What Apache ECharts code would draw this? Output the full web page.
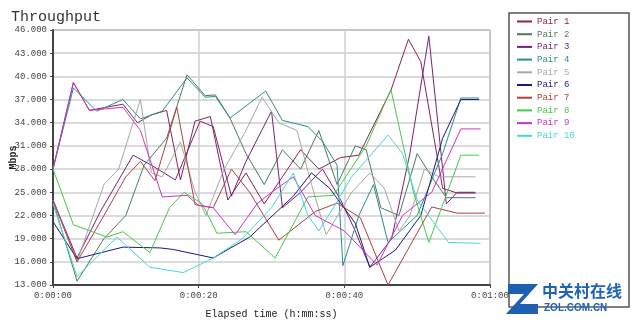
<!DOCTYPE html>
<html><head><meta charset="utf-8">
<script src="https://cdn.jsdelivr.net/npm/echarts@6/dist/echarts.min.js"></script>
<style>html,body{margin:0;padding:0;background:#fff}#c{width:640px;height:325px}</style>
</head><body><div id="c"></div>
<script>
const seriesNames = ['Pair 1','Pair 2','Pair 3','Pair 4','Pair 5','Pair 6','Pair 7','Pair 8','Pair 9','Pair 10'];
const seriesColors = ['#8b2252','#4f7a5a','#7a1f7a','#2a8f8f','#a8a8a8','#1a1a80','#b0403a','#44cc44','#cc33cc','#44d8d8'];
const yTicks = [13,16,19,22,25,28,31,34,37,40,43,46];
const xTicks = ['0:00:00','0:00:20','0:00:40','0:01:00'];

const pair1 = [[0,28],[2.8,39.2],[5,35.6],[9.6,36.4],[11.6,34.0],[13.5,35.0],[15.6,35.6],[17.5,26.6],[19.5,34.2],[21.6,34.8],[24.0,24.0],[26.5,27.5],[29.0,23.5],[31.5,27.0],[34.0,30.5],[36.5,28.0],[39.5,29.5],[42.0,29.8],[46.4,38.2],[48.8,44.8],[50.5,41.9],[53.5,25.5],[55.5,24.9],[58.0,24.9]];
const pair2 = [[0,23.9],[3.3,13.5],[7,19],[10,22],[12.5,28.5],[15.6,32],[18.4,40.2],[20.9,37.5],[22.3,37.6],[24.3,34.6],[26.5,30],[29,26],[31.5,30.5],[34,28],[36.5,33],[39,26],[41.5,31],[43,30.5],[45,23],[47.5,22],[50,30],[52,27],[54,24.3],[58,24.3]];
const pair3 = [[0,24.0],[3.3,16.5],[6.5,22.5],[11,29.8],[13.5,28.5],[16.8,26.6],[20.2,34.2],[22.0,33.5],[24.5,24.5],[26.5,29],[30,35.5],[31.5,23],[34,25],[37,28],[39.5,24],[41.5,20],[43.5,15.3],[46.5,19],[49,30],[51.6,45.2],[54,23.5],[55.5,25],[58,25]];
const pair4 = [[0,28],[2.8,38.5],[6,35.5],[9.6,37.0],[12,34.5],[15,35.5],[18.4,39.8],[20.9,37.3],[22.3,37.4],[24.3,34.6],[29.2,38.1],[31.5,34.3],[35,33.5],[37,31.6],[39,28.5],[39.8,15.5],[42,22],[44,26],[46,18.5],[50,22],[53.5,30],[56,37.2],[58.5,37.2]];
const pair5 = [[0,24],[3.3,16],[7,26],[9,28],[12,37],[13.5,27.5],[15,27],[17.5,31.5],[19.5,25],[21,22],[23.5,28],[26.5,33],[28.7,37.3],[31,34],[33.5,33],[35.5,26],[37.5,19.5],[41,25],[43.5,27.5],[45.5,25.5],[47.5,20],[49,22],[51,28],[53,27],[58,27]];
const pair6 = [[0,21.2],[3.3,16.4],[9.6,17.9],[14.7,17.8],[16.5,17.6],[22,16.5],[27,19.2],[33,24.5],[35.5,27.5],[38,25.5],[41.5,21],[43.5,15.3],[47,17.5],[50.5,22],[53.5,32],[56,37.0],[58.5,37.0]];
const pair7 = [[0,24],[3.3,16.0],[7,22],[10,27],[12,29],[14,26.5],[17,36],[19.5,23.4],[22,23.0],[24.5,28],[27,25],[31,18.8],[36,22.5],[39,23.6],[42.2,21.7],[46,13.0],[52,23.1],[55.5,22.3],[59.3,22.3]];
const pair8 = [[0,28],[2.8,20.8],[7.4,19.2],[9.6,19.9],[13.3,17.2],[16,23],[18,25],[20.5,23.5],[22.5,19.7],[26.5,19.9],[30.5,16.5],[35,24.4],[38.5,24.6],[43,31],[46.4,38.3],[49.5,25],[51.6,18.5],[56,29.8],[58.5,29.8]];
const pair9 = [[0,28],[2.8,39.2],[5,35.6],[9.6,36.0],[12,33],[15,24.4],[18.4,24.6],[20,23.3],[22,23],[25,19.5],[28,23.5],[30,25],[33,27],[36,22],[40,20],[44.5,15.6],[48,22],[52,25],[56,33.2],[58.7,33.2]];
const pair10 = [[0,23.5],[3.3,14.1],[8.8,19.2],[13.3,15.3],[17.9,14.6],[22,16.5],[26,19],[30,23],[33,27.5],[35,22],[36.5,20],[38.5,23],[41,27],[46.0,32.4],[48,30],[50,24],[54.3,18.5],[58.7,18.4]];
const allPairs = [pair1,pair2,pair3,pair4,pair5,pair6,pair7,pair8,pair9,pair10];

const chart = echarts.init(document.getElementById('c'), null, {renderer:'canvas'});
const mono = 'Liberation Mono';
chart.setOption({
  animation:false,
  backgroundColor:'#fff',
  title:{text:'Throughput',left:6,top:5,textStyle:{fontFamily:mono,fontSize:15,fontWeight:'normal',color:'#333'}},
  grid:{left:53,right:150,top:30,bottom:40,containLabel:false,outerBoundsMode:'none',show:true,borderColor:'#555',borderWidth:1},
  legend:{
    orient:'vertical',left:512,top:11,itemWidth:15,itemHeight:2,itemGap:1.7,icon:'rect',
    textStyle:{fontFamily:mono,fontSize:9,lineHeight:11},
    data:seriesNames.map((n,i)=>({name:n,textStyle:{color:seriesColors[i]}}))
  },
  xAxis:{type:'value',min:0,max:60,interval:20,
    name:'Elapsed time (h:mm:ss)',nameLocation:'middle',nameGap:24,nameMoveOverlap:false,
    nameTextStyle:{fontFamily:mono,fontSize:10,color:'#222'},
    axisLine:{lineStyle:{color:'#444',width:2}},
    axisTick:{show:true,length:3,lineStyle:{color:'#444'}},
    axisLabel:{fontFamily:mono,fontSize:9,color:'#444',margin:6,formatter:v=>xTicks[Math.round(v/20)]},
    splitLine:{lineStyle:{color:'#cfcfcf',width:1.5}}},
  yAxis:{type:'value',min:yTicks[0],max:yTicks[yTicks.length-1],interval:3,
    name:'Mbps',nameLocation:'middle',nameGap:35,nameRotate:90,nameMoveOverlap:false,
    nameTextStyle:{fontFamily:mono,fontSize:10,fontWeight:'bold',color:'#222'},
    axisLine:{show:true,lineStyle:{color:'#444',width:2}},
    axisTick:{show:true,length:3,lineStyle:{color:'#444'}},
    axisLabel:{fontFamily:mono,fontSize:9,color:'#444',margin:6,formatter:v=>v.toFixed(3)},
    splitLine:{lineStyle:{color:'#cfcfcf',width:1.5}}},
  series:allPairs.map((d,i)=>({name:seriesNames[i],type:'line',data:d,symbol:'none',
    lineStyle:{width:1,color:seriesColors[i]},itemStyle:{color:seriesColors[i]}})),
  graphic:[
    {type:'rect',shape:{x:509,y:13,width:120,height:294},style:{fill:'none',stroke:'#555',lineWidth:1.5},z:-1},
    {type:'polygon',shape:{points:[[508,284],[538,284],[520,304],[538,304],[538,314],[506,314],[524,294],[508,294]]},style:{fill:'#1d5fb0'},z:10},
    {type:'text',left:542,top:283,style:{text:'中关村在线',font:'bold 16px "Noto Sans CJK SC"',fill:'#1f63b8'},z:10},
    {type:'text',left:544,top:303,style:{text:'ZOL.COM.CN',font:'bold 10px "Liberation Sans"',fill:'#1f63b8'},z:10}
  ]
});
</script></body></html>
